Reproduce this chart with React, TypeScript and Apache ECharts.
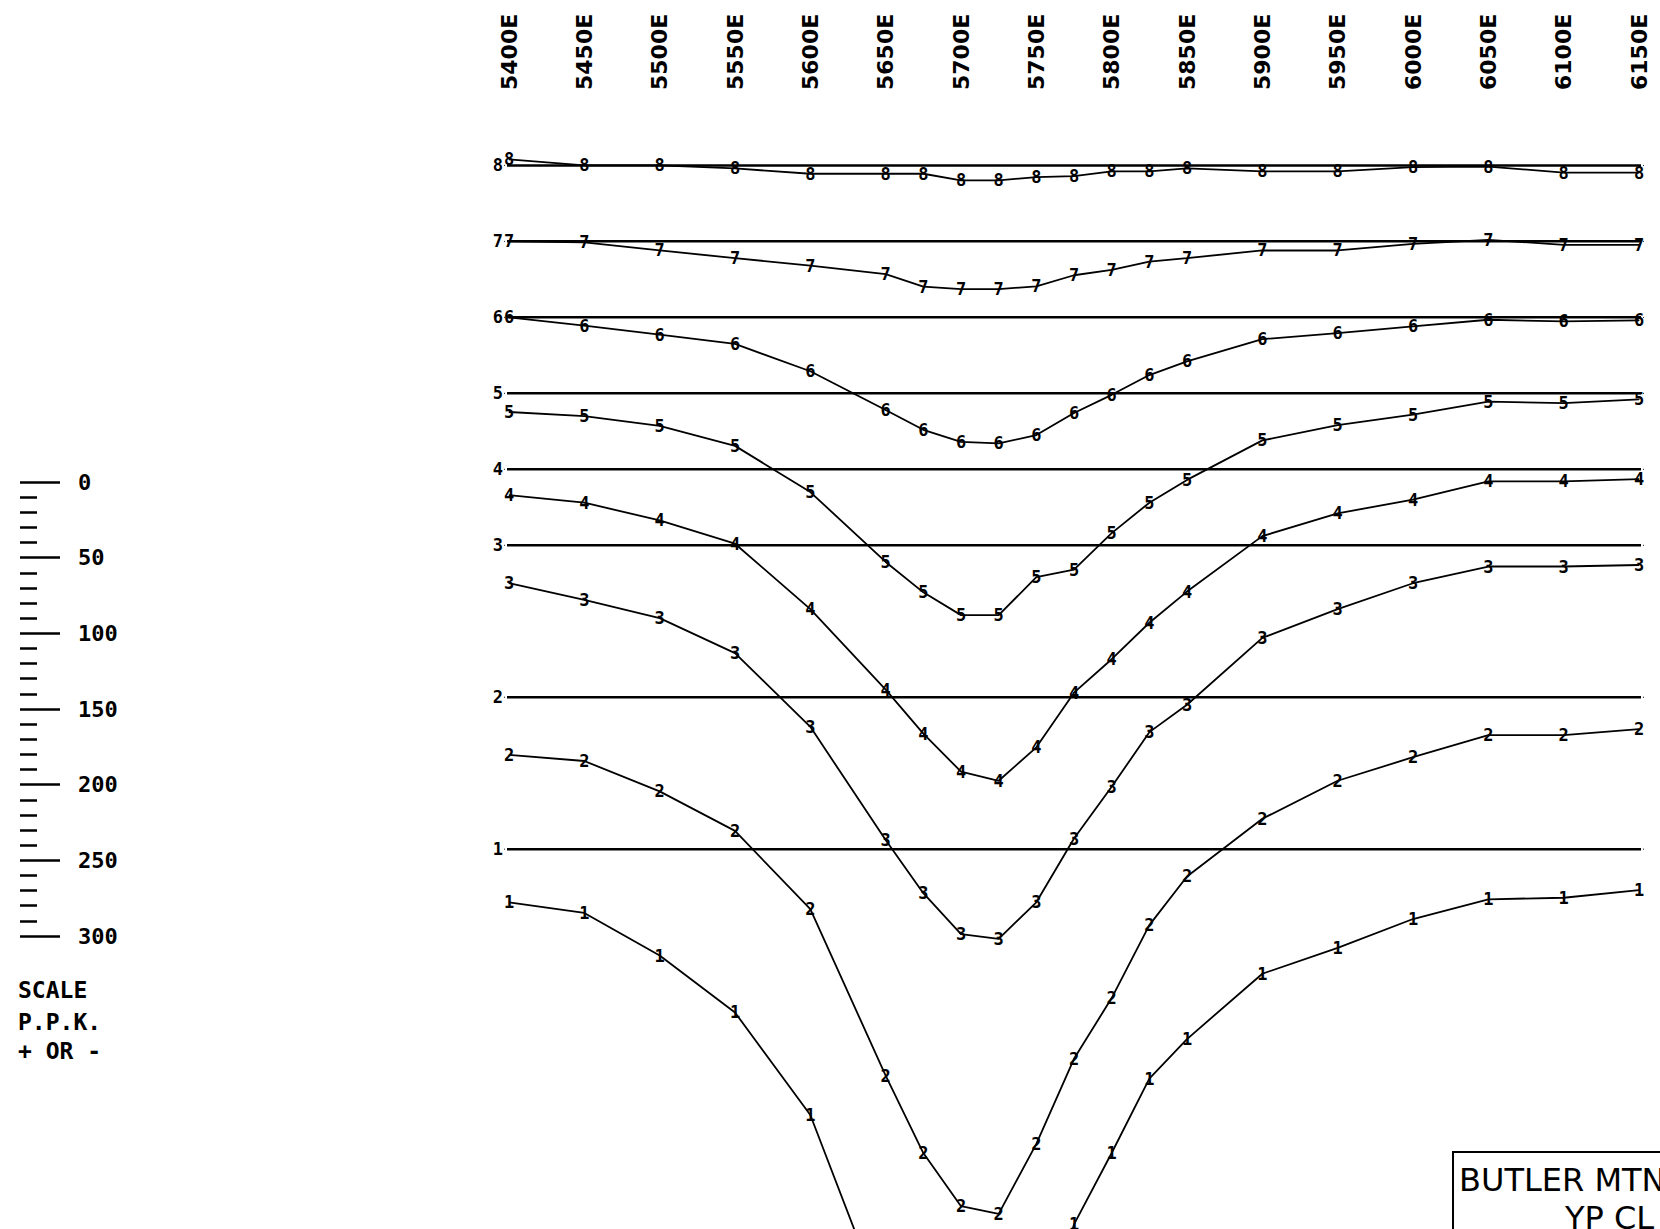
import React, { useEffect, useRef } from "react";
import * as echarts from "echarts";

// Stations (metres east) at which readings were taken
const stations = [5400, 5450, 5500, 5550, 5600, 5650, 5675, 5700, 5725, 5750, 5775, 5800, 5825, 5850, 5900, 5950, 6000, 6050, 6100, 6150];

// Profile readings (P.P.K., positive = plotted downward from the line's base)
const line1 = [35, 42, 70, 107.5, 175, 304, 350, 390, 395, 330, 247, 200, 151, 125, 82, 65, 46, 33, 32, 27];
const line2 = [38, 42, 62, 88, 139.5, 249, 300, 335, 340, 294, 238, 198, 150, 118, 80, 55, 39.5, 25, 25, 21];
const line3 = [25, 36, 48, 71, 119.5, 194, 229, 256, 259, 235, 193, 159, 123, 105, 61, 42, 25, 14, 14, 13];
const line4 = [17, 22, 33.6, 49, 92, 145, 174, 199, 205, 183, 147, 125, 101, 80.5, 44, 29, 20, 8, 8, 6.5];
const line5 = [12.3, 15, 21.5, 34.6, 65, 111, 131, 146, 146, 121, 116, 92, 72, 57, 31, 21, 14, 5.5, 6.5, 4];
const line6 = [0, 5.5, 11.4, 17.5, 35.5, 61, 74, 82, 83, 77.5, 63, 51, 38, 29, 14.4, 10.4, 6, 1.6, 2.7, 2];
const line7 = [0, 0.7, 6, 11, 16, 21.5, 29.8, 31.4, 31.4, 29.6, 22.3, 18.8, 13.3, 11, 6, 6, 1.6, -1, 2.3, 2.3];
const line8 = [-4, 0, 0, 2, 5.5, 5.5, 5.5, 9.9, 9.9, 7.7, 7, 4, 4, 1.9, 4, 4, 1.2, 0.8, 4.7, 4.7];

const lineNames = ["1", "2", "3", "4", "5", "6", "7", "8"];
// base line of each profile, in P.P.K. below line 8's base
const baselineOffsets = [450, 350, 250, 200, 150, 100, 50, 0];

const scaleMin = 0;
const scaleMax = 300;
const scaleStep = 50;

const legendLines = ["SCALE", "P.P.K.", "+ OR -"];
const titleLines = ["BUTLER MTN", "YP CL"];

const digitFont = {
  fontFamily: "DejaVu Sans Mono",
  fontWeight: "bold" as const,
  fontSize: 17,
  color: "#000",
};

export default function App() {
  const ref = useRef<HTMLDivElement>(null);

  useEffect(() => {
    document.body.style.margin = "0";
    document.body.style.overflow = "hidden";
    const chart = echarts.init(ref.current!, null, { renderer: "svg" });

    const profiles = [line1, line2, line3, line4, line5, line6, line7, line8];
    const series: any[] = [];
    profiles.forEach((vals, i) => {
      const off = baselineOffsets[i];
      const name = lineNames[i];
      series.push({
        type: "line",
        name: "base " + name,
        xAxisIndex: 0,
        yAxisIndex: 0,
        data: [
          [5397, off],
          [6153, off],
        ],
        clip: false,
        symbol: "circle",
        symbolSize: 1,
        showSymbol: true,
        itemStyle: { color: "#000" },
        lineStyle: { color: "#000", width: 2.5 },
        label: {
          show: true,
          position: "left",
          distance: 1,
          formatter: (p: any) => (p.dataIndex === 0 ? name : ""),
          ...digitFont,
        },
        silent: true,
      });
      series.push({
        type: "line",
        name: "profile " + name,
        xAxisIndex: 0,
        yAxisIndex: 0,
        data: stations.map((s, j) => [s, off + vals[j]]),
        symbol: "circle",
        symbolSize: 1,
        showSymbol: true,
        itemStyle: { color: "#000" },
        lineStyle: { color: "#000", width: 1.8 },
        label: {
          show: true,
          position: "inside",
          formatter: name,
          ...digitFont,
        },
        silent: true,
      });
    });

    const graphics: any[] = [];
    legendLines.forEach((t, i) => {
      graphics.push({
        type: "text",
        x: 18,
        y: [990, 1022, 1051][i],
        style: {
          text: t,
          font: "bold 23px 'DejaVu Sans Mono'",
          fill: "#000",
          verticalAlign: "middle",
          align: "left",
        },
      });
    });
    graphics.push({
      type: "rect",
      shape: { x: 1453, y: 1152, width: 400, height: 200 },
      style: { fill: "none", stroke: "#000", lineWidth: 2 },
    });
    graphics.push({
      type: "text",
      x: 1459,
      y: 1180,
      style: {
        text: titleLines[0],
        font: "32px 'DejaVu Sans'",
        fill: "#000",
        verticalAlign: "middle",
        align: "left",
      },
    });
    graphics.push({
      type: "text",
      x: 1565,
      y: 1218,
      style: {
        text: titleLines[1],
        font: "32px 'DejaVu Sans'",
        fill: "#000",
        verticalAlign: "middle",
        align: "left",
      },
    });

    chart.setOption({
      animation: false,
      backgroundColor: "#fff",
      grid: [
        { left: 509, right: 21, top: 135, bottom: 0 },
        { left: 20, top: 482, width: 80, height: 454 },
      ],
      xAxis: [
        {
          type: "value",
          gridIndex: 0,
          position: "top",
          min: 5400,
          max: 6150,
          interval: 50,
          axisLine: { show: false },
          axisTick: { show: false },
          splitLine: { show: false },
          axisLabel: {
            rotate: 90,
            margin: 45,
            formatter: (v: number) => v + "E",
            fontFamily: "DejaVu Sans",
            fontWeight: "bold",
            fontSize: 22,
            color: "#000",
          },
        },
        { type: "value", gridIndex: 1, show: false, min: 0, max: 1 },
      ],
      yAxis: [
        {
          type: "value",
          gridIndex: 0,
          inverse: true,
          min: -20,
          max: 700,
          show: false,
        },
        {
          type: "value",
          gridIndex: 1,
          inverse: true,
          min: scaleMin,
          max: scaleMax,
          interval: scaleStep,
          position: "left",
          axisLine: { show: false },
          splitLine: { show: false },
          axisTick: {
            show: true,
            inside: true,
            length: 40,
            lineStyle: { color: "#000", width: 2.5 },
          },
          minorTick: {
            show: true,
            splitNumber: 5,
            length: 17,
            lineStyle: { color: "#000", width: 2.5 },
          },
          axisLabel: {
            inside: true,
            margin: 58,
            fontFamily: "DejaVu Sans Mono",
            fontWeight: "bold",
            fontSize: 22,
            color: "#000",
          },
        },
      ],
      series,
      graphic: graphics,
    });

    return () => chart.dispose();
  }, []);

  return <div ref={ref} style={{ width: 1660, height: 1229 }} />;
}
